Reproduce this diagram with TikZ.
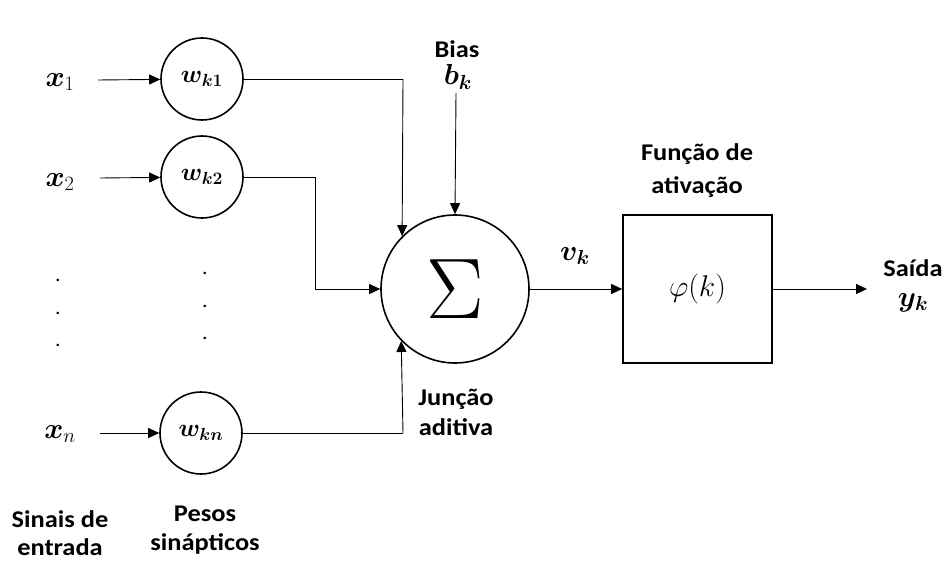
\RequirePackage{fix-cm}
\documentclass[tikz,border=0pt]{standalone}
\usepackage{amsmath,bm}
\usepackage{fontspec}
\setmainfont{Carlito}[FakeStretch=1.1]
\usetikzlibrary{arrows.meta}
\begin{document}
\begin{tikzpicture}[x=1pt,y=-1pt,
  wcirc/.style={draw,circle,line width=1.6pt,minimum size=82pt,inner sep=0pt},
  conn/.style={line width=0.9pt,-{Triangle[length=11pt,width=10pt]}},
  plain/.style={line width=0.9pt},
  lbl/.style={font=\fontsize{24}{29}\selectfont\bfseries,align=center,inner sep=1pt},
  mlbl/.style={font=\fontsize{29}{29}\selectfont,inner sep=1pt},
  dot/.style={font=\fontsize{20}{20}\selectfont}]
\useasboundingbox (0,0) rectangle (949,561);
% inputs
\node[mlbl] (x1) at (60,82) {$\bm{x}_1$};
\node[mlbl] (x2) at (60,182) {$\bm{x}_2$};
\node[mlbl] (xn) at (60,434) {$\bm{x}_n$};
\coordinate (s1) at (98,80);
\coordinate (s2) at (100,178);
\coordinate (sn) at (100,433);
% weights
\node[wcirc] (w1) at (202,79) {\fontsize{25}{25}\selectfont$\bm{w_{k1}}$};
\node[wcirc] (w2) at (202,177) {\fontsize{25}{25}\selectfont$\bm{w_{k2}}$};
\node[wcirc] (wn) at (201,433) {\fontsize{25}{25}\selectfont$\bm{w_{kn}}$};
\draw[conn] (s1) -- (w1);
\draw[conn] (s2) -- (w2);
\draw[conn] (sn) -- (wn);
% dots
\foreach \y/\n in {280/a,313/b,345/c}{\node[dot] (dl\n) at (58,\y) {.};}
\foreach \y/\n in {273/a,306/b,338/c}{\node[dot] (dr\n) at (205,\y) {.};}
% summation
\node[draw,circle,line width=1.6pt,minimum size=148pt,inner sep=0pt] (sum) at (455,289)
  {\fontsize{86}{86}\selectfont$\Sigma$};
\coordinate (c1) at (403,79);
\coordinate (c2) at (315,177);
\coordinate (c2b) at (315,289);
\coordinate (cn) at (403,433);
\draw[plain] (w1.east) -- (c1);
\draw[conn] (c1) -- (sum.{180-44.7});
\draw[plain] (w2.east) -- (c2) -- (c2b);
\draw[conn] (c2b) -- (sum.west);
\draw[plain] (wn.east) -- (cn);
\draw[conn] (cn) -- (sum.{180+44.7});
% bias
\node[lbl] (bias) at (457,49) {Bias};
\node[mlbl] (bk) at (458,77) {$\bm{b_k}$};
\coordinate (bs) at (456,93);
\draw[conn] (bs) -- (sum.north);
% junction label
\node[lbl,font=\fontsize{24}{30}\selectfont\bfseries] (junc) at (456,412) {Junção\\aditiva};
% activation
\node[draw,line width=1.6pt,minimum width=149pt,minimum height=148pt,inner sep=0pt] (act) at (697.5,289)
  {\fontsize{30}{30}\selectfont$\varphi(k)$};
\node[lbl,font=\fontsize{24}{33}\selectfont\bfseries] (actl) at (697,171) {Função de\\ativação};
\node[mlbl] (vk) at (575,256) {$\bm{v_k}$};
\draw[conn] (sum.east) -- (act.west);
\coordinate (out) at (867,289);
\draw[conn] (act.east) -- (out);
\node[lbl] (saida) at (913,268) {Saída};
\node[mlbl] (yk) at (913,303) {$\bm{y_k}$};
% bottom labels
\node[lbl,font=\fontsize{24}{28}\selectfont\bfseries] (sinais) at (60,533) {Sinais de\\entrada};
\node[lbl,font=\fontsize{24}{29}\selectfont\bfseries] (pesos) at (205,530) {Pesos\\sinápticos};
\end{tikzpicture}
\end{document}
